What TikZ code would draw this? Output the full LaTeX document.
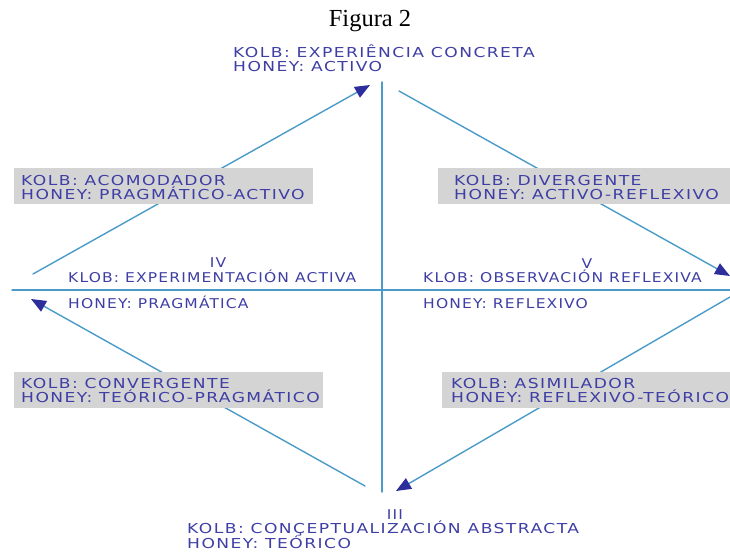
\documentclass[tikz,border=0pt]{standalone}
\usepackage{fontspec}
\usetikzlibrary{arrows.meta}
\newfontfamily\kolbfont[FakeStretch=1.25,LetterSpace=10.5]{DejaVu Sans}
\newfontfamily\ejefont[FakeStretch=1.15,LetterSpace=8.5]{DejaVu Sans}
\newfontfamily\titlefont{Liberation Serif}
\definecolor{txtazul}{RGB}{62,62,165}
\definecolor{lineazul}{RGB}{75,155,200}
\definecolor{flechazul}{RGB}{45,45,155}
\definecolor{grisbox}{RGB}{212,212,212}
\begin{document}
\begin{tikzpicture}[x=1pt, y=-1pt, line join=round, line cap=round]
	\tikzset{
		eje/.style={draw=lineazul, line width=1.4pt},
		flecha/.style={eje, -{Triangle[length=15pt,width=12pt,color=flechazul]}},
		etq/.style={font=\kolbfont\fontsize{13.7}{14}\selectfont, text=txtazul, inner sep=0pt, anchor=base west},
		etqeje/.style={etq, font=\ejefont\fontsize{13.5}{14}\selectfont},
		num/.style={etqeje, anchor=base},
		caja/.style={fill=grisbox, inner sep=0pt, anchor=north west, minimum height=36pt}
	}
	\useasboundingbox (0,0) rectangle (730,554);
	\coordinate (ejeN) at (382,82); \coordinate (ejeS) at (382,492);
	\coordinate (ejeO) at (12,290); \coordinate (ejeE) at (730,290);
	\coordinate (acomA) at (33,274); \coordinate (acomB) at (370,85);
	\coordinate (divA) at (399,91); \coordinate (divB) at (730,276);
	\coordinate (asimA) at (730,297); \coordinate (asimB) at (396,491);
	\coordinate (convA) at (365,486); \coordinate (convB) at (31,299);
	\draw[eje] (ejeN) -- (ejeS);
	\draw[eje] (ejeO) -- (ejeE);
	\draw[flecha] (acomA) -- (acomB);
	\draw[flecha] (divA) -- (divB);
	\draw[flecha] (asimA) -- (asimB);
	\draw[flecha] (convA) -- (convB);
	\node[caja, minimum width=299pt] (cajaAcom) at (14,168) {};
	\node[caja, minimum width=300pt] (cajaDiv) at (438,168) {};
	\node[caja, minimum width=309pt] (cajaConv) at (14,372) {};
	\node[caja, minimum width=300pt] (cajaAsim) at (442,372) {};
	\node[font=\titlefont\fontsize{24.5}{28}\selectfont, anchor=base, inner sep=0pt] (titulo) at (370,27) {Figura 2};
	\node[etq] (kolbN) at (233,57) {KOLB: EXPERIÊNCIA CONCRETA};
	\node[etq] (honeyN) at (233,71) {HONEY: ACTIVO};
	\node[etq] (kolbAcom) at (21,185) {KOLB: ACOMODADOR};
	\node[etq] (honeyAcom) at (21,199) {HONEY: PRAGMÁTICO-ACTIVO};
	\node[etq] (kolbDiv) at (454,185) {KOLB: DIVERGENTE};
	\node[etq] (honeyDiv) at (454,199) {HONEY: ACTIVO-REFLEXIVO};
	\node[num] (iv) at (218,267.5) {IV};
	\node[etqeje] (kolbO) at (68,282) {KLOB: EXPERIMENTACIÓN ACTIVA};
	\node[etqeje] (honeyO) at (68,308) {HONEY: PRAGMÁTICA};
	\node[num] (v) at (587,268) {V};
	\node[etqeje] (kolbE) at (423,282) {KLOB: OBSERVACIÓN REFLEXIVA};
	\node[etqeje] (honeyE) at (423,308) {HONEY: REFLEXIVO};
	\node[etq] (kolbConv) at (21,388.5) {KOLB: CONVERGENTE};
	\node[etq] (honeyConv) at (21,402.5) {HONEY: TEÓRICO-PRAGMÁTICO};
	\node[etq] (kolbAsim) at (451,388.5) {KOLB: ASIMILADOR};
	\node[etq] (honeyAsim) at (451,402.5) {HONEY: REFLEXIVO-TEÓRICO};
	\node[num] (iii) at (395,519.5) {III};
	\node[etq] (kolbS) at (187,533.5) {KOLB: CONÇEPTUALIZACIÓN ABSTRACTA};
	\node[etq] (honeyS) at (187,548) {HONEY: TEÓRICO};
\end{tikzpicture}
\end{document}
